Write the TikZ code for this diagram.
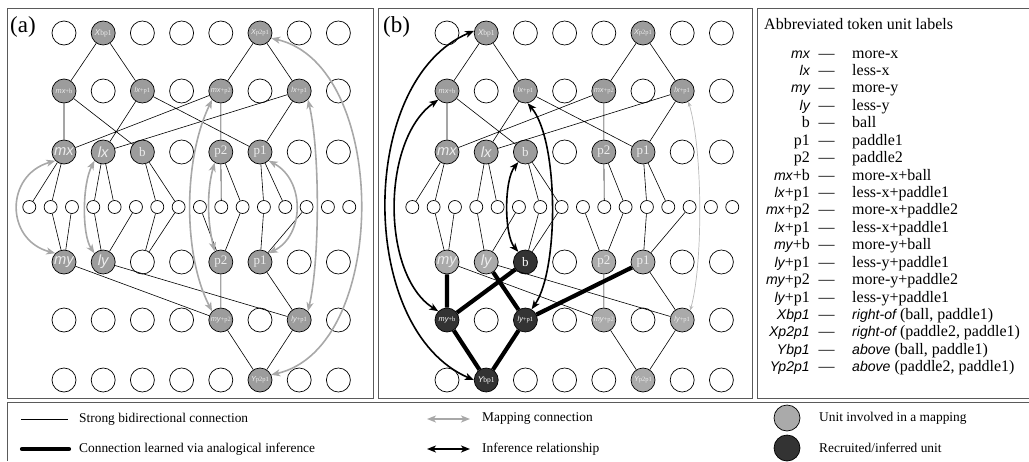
\documentclass[tikz,border=0pt]{standalone}
\usepackage{fontspec}
\setmainfont{Liberation Serif}
\newfontfamily\labsans{Liberation Sans}[Scale=0.88]
\newfontfamily\nodesans{Liberation Sans}[Scale=1.13]
\usetikzlibrary{arrows.meta}

\definecolor{unitgray}{HTML}{9C9C9C}
\definecolor{unitlight}{HTML}{AAAAAA}
\definecolor{unitdark}{HTML}{333333}
\definecolor{mapgray}{HTML}{A8A8A8}
\definecolor{panelgray}{HTML}{5A5A5A}

\newcommand{\sfit}[1]{{\labsans\itshape #1}}
\newcommand{\nit}[1]{{\nodesans\itshape #1}}

\tikzset{
  unit/.style={circle, draw, line width=0.7pt, minimum size=24pt, inner sep=0pt, fill=white},
  feature/.style={circle, draw, line width=0.7pt, minimum size=13pt, inner sep=0pt, fill=white},
  mapped/.style={unit, fill=unitgray, text=white!93!black},
  recruited/.style={unit, fill=unitdark, text=white},
  rowlab/.style={font=\fontsize{13}{13}\selectfont},
  toplab/.style={font=\fontsize{7.5}{7.5}\selectfont},
  midlab/.style={font=\fontsize{6.5}{6.5}\selectfont},
  conn/.style={line width=0.6pt},
  learned/.style={line width=4.2pt},
  mapline/.style={draw=mapgray, line width=1.6pt, {Stealth[length=9pt,width=7pt,inset=2.5pt]}-{Stealth[length=9pt,width=7pt,inset=2.5pt]}},
  mapthin/.style={draw=mapgray!80, line width=0.7pt, {Stealth[length=5pt,width=4pt]}-{Stealth[length=5pt,width=4pt]}},
  infer/.style={line width=1.6pt, {Stealth[length=9pt,width=7pt,inset=2.5pt]}-{Stealth[length=9pt,width=7pt,inset=2.5pt]}},
  panel/.style={draw=panelgray, line width=1pt},
  legtext/.style={font=\fontsize{13.4}{13.4}\selectfont, anchor=west, inner sep=0pt},
  keytext/.style={font=\fontsize{16}{16}\selectfont, inner sep=0pt}
}

\begin{document}
\begin{tikzpicture}[x=1pt, y=-1pt]
\useasboundingbox (0,0) rectangle (1029,461);

% frames
\draw[panel] (7,8) rectangle (373,398);
\draw[panel] (378,8) rectangle (752,398);
\draw[panel] (1029,8) -- (757,8) -- (757,398) -- (1029,398);
\draw[panel] (1029,402) -- (7,402) -- (7,461);
\node[font=\fontsize{23}{23}\selectfont, anchor=west, inner sep=0pt] (alab) at (10,27) {(a)};
\node[font=\fontsize{23}{23}\selectfont, anchor=west, inner sep=0pt] (blab) at (383,27) {(b)};

% units shared by both panels
\foreach \p/\ox/\lo in {a/0/unitgray, b/383/unitlight} {
\begin{scope}[xshift=\ox]
  \foreach \c in {0,2,3,4,6,7}
    \node[unit] (\p-r0c\c) at ({64+39.2*\c},33) {};
  \node[mapped, toplab] (\p-Xb) at (103.2,33) {\nit{X}bp1};
  \node[mapped, midlab] (\p-Xp) at (260,33) {\nit{X}p2p1};
  \foreach \c in {1,3,5,7}
    \node[unit] (\p-r1c\c) at ({64+39.2*\c},91) {};
  \node[mapped, midlab] (\p-mxb) at (64,91) {\nit{mx}+b};
  \node[mapped, midlab] (\p-lxp) at (142.4,91) {\nit{lx}+p1};
  \node[mapped, midlab] (\p-mxq) at (220.8,91) {\nit{mx}+p2};
  \node[mapped, midlab] (\p-lxq) at (299.2,91) {\nit{lx}+p1};
  \foreach \c in {3,6,7}
    \node[unit] (\p-r2c\c) at ({64+39.2*\c},152) {};
  \node[mapped, rowlab] (\p-mx) at (64,152) {\nit{mx}};
  \node[mapped, rowlab] (\p-lx) at (103.2,152) {\nit{lx}};
  \node[mapped, rowlab] (\p-b) at (142.4,152) {b};
  \node[mapped, rowlab] (\p-ptwo) at (220.8,152) {p2};
  \node[mapped, rowlab] (\p-pone) at (260,152) {p1};
  \foreach \j in {0,...,15}
    \node[feature] (\p-s\j) at ({29.3+21.33*\j},207) {};
  \foreach \c in {3,6,7}
    \node[unit] (\p-r3c\c) at ({64+39.2*\c},262) {};
  \node[mapped, fill=\lo, rowlab] (\p-my) at (64,262) {\nit{my}};
  \node[mapped, fill=\lo, rowlab] (\p-ly) at (103.2,262) {\nit{ly}};
  \node[mapped, fill=\lo, rowlab] (\p-qtwo) at (220.8,262) {p2};
  \node[mapped, fill=\lo, rowlab] (\p-qone) at (260,262) {p1};
  \foreach \c in {1,3,5,7}
    \node[unit] (\p-r4c\c) at ({64+39.2*\c},320) {};
  \node[mapped, fill=\lo, midlab] (\p-myq) at (220.8,320) {\nit{my}+p2};
  \node[mapped, fill=\lo, midlab] (\p-lyq) at (299.2,320) {\nit{ly}+p1};
  \foreach \c in {0,2,3,4,6,7}
    \node[unit] (\p-r5c\c) at ({64+39.2*\c},380) {};
  \node[mapped, fill=\lo, midlab] (\p-Yp) at (260,380) {\nit{Y}p2p1};
\end{scope}
}

% panel (a): units left out of the mapping
\node[unit] (a-bb) at (142.4,262) {};
\node[unit] (a-myb) at (64,320) {};
\node[unit] (a-lyp) at (142.4,320) {};
\node[unit] (a-Yb) at (103.2,380) {};

% panel (b): recruited units
\begin{scope}[xshift=383]
\node[recruited, rowlab] (b-bb) at (142.4,262) {b};
\node[recruited, midlab] (b-myb) at (64,320) {\nit{my}+b};
\node[recruited, midlab] (b-lyp) at (142.4,320) {\nit{ly}+p1};
\node[recruited, toplab] (b-Yb) at (103.2,380) {\nit{Y}bp1};
\end{scope}

% strong bidirectional connections
\foreach \p in {a,b} {
  \draw[conn] (\p-Xb) -- (\p-mxb) (\p-Xb) -- (\p-lxp) (\p-Xp) -- (\p-mxq) (\p-Xp) -- (\p-lxq)
    (\p-mxb) -- (\p-mx) (\p-mxb) -- (\p-b) (\p-lxp) -- (\p-lx) (\p-lxp) -- (\p-pone)
    (\p-mxq) -- (\p-mx) (\p-mxq) -- (\p-ptwo) (\p-lxq) -- (\p-lx) (\p-lxq) -- (\p-pone)
    (\p-mx) -- (\p-s0) (\p-mx) -- (\p-s1) (\p-lx) -- (\p-s3) (\p-lx) -- (\p-s4)
    (\p-b) -- (\p-s6) (\p-b) -- (\p-s7) (\p-ptwo) -- (\p-s9) (\p-ptwo) -- (\p-s10)
    (\p-pone) -- (\p-s11) (\p-pone) -- (\p-s12)
    (\p-s1) -- (\p-my) (\p-s2) -- (\p-my) (\p-s3) -- (\p-ly) (\p-s5) -- (\p-ly)
    (\p-s6) -- (\p-bb) (\p-s7) -- (\p-bb) (\p-s8) -- (\p-qtwo) (\p-s10) -- (\p-qtwo)
    (\p-s11) -- (\p-qone) (\p-s13) -- (\p-qone)
    (\p-my) -- (\p-myq) (\p-ly) -- (\p-lyq) (\p-qtwo) -- (\p-myq) (\p-qone) -- (\p-lyq)
    (\p-myq) -- (\p-Yp) (\p-lyq) -- (\p-Yp);
}

% mappings in (a)
\draw[mapline] (a-mx.south west) .. controls (5,175) and (5,240) .. (a-my.north west);
\draw[mapline] (a-lx.south west) .. controls (82,185) and (82,235) .. (a-ly.north west);
\draw[mapline] (a-ptwo.240) .. controls (207,190) and (207,220) .. (a-qtwo.120);
\draw[mapline] (a-pone.south east) .. controls (305,180) and (305,235) .. (a-qone.north east);
\draw[mapline] (a-mxq.south west) .. controls (183,160) and (183,255) .. (a-myq.north west);
\draw[mapline] (a-lxq.south east) .. controls (320,150) and (320,260) .. (a-lyq.north east);
\draw[mapline] (a-Xp.-25) .. controls (390,65) and (390,348) .. (a-Yp.25);

% learned connections and inferences in (b)
\draw[learned] (b-my) -- (b-myb) (b-bb) -- (b-myb) (b-ly) -- (b-lyp) (b-qone) -- (b-lyp)
  (b-myb) -- (b-Yb) (b-lyp) -- (b-Yb);
\begin{scope}[xshift=383]
\draw[infer] (b-Xb.170) .. controls (-26,80) and (-26,330) .. (b-Yb.west);
\draw[infer] (b-mxb.south west) .. controls (-2,140) and (-2,275) .. (b-myb.north west);
\draw[infer] (b-b.235) .. controls (121,180) and (121,235) .. (b-bb.125);
\draw[infer] (b-lxp.280) .. controls (176,140) and (176,270) .. (b-lyp.60);
\draw[mapthin] (b-lxq.-60) .. controls (320,150) and (320,265) .. (b-lyq.50);
\end{scope}

% key to the labels
\node[keytext, anchor=base west] (keytitle) at (764,29.5) {Abbreviated token unit labels};
\foreach \k/\lab/\txt in {0/\sfit{mx}/more-x, 1/\sfit{lx}/less-x, 2/\sfit{my}/more-y,
    3/\sfit{ly}/less-y, 4/b/ball, 5/p1/paddle1, 6/p2/paddle2,
    7/{\sfit{mx}+b}/more-x+ball, 8/{\sfit{lx}+p1}/less-x+paddle1,
    9/{\sfit{mx}+p2}/more-x+paddle2, 10/{\sfit{lx}+p1}/less-x+paddle1,
    11/{\sfit{my}+b}/more-y+ball, 12/{\sfit{ly}+p1}/less-y+paddle1,
    13/{\sfit{my}+p2}/more-y+paddle2, 14/{\sfit{ly}+p1}/less-y+paddle1,
    15/\sfit{Xbp1}/{\sfit{right-of} (ball, paddle1)},
    16/\sfit{Xp2p1}/{\sfit{right-of} (paddle2, paddle1)},
    17/\sfit{Ybp1}/{\sfit{above} (ball, paddle1)},
    18/\sfit{Yp2p1}/{\sfit{above} (paddle2, paddle1)}} {
  \node[keytext, anchor=base east] (key\k) at (810,{58+17.43*\k}) {\lab};
  \node[keytext, anchor=base] (dash\k) at (826.5,{58+17.43*\k}) {\textemdash};
  \node[keytext, anchor=base west] (desc\k) at (852,{58+17.43*\k}) {\txt};
}

% legend strip
\coordinate (thinA) at (21,419);
\coordinate (thinB) at (68,419);
\coordinate (thickA) at (22,449);
\coordinate (thickB) at (69,449);
\coordinate (mapA) at (427,419);
\coordinate (mapB) at (470,419);
\coordinate (infA) at (427,449);
\coordinate (infB) at (470,449);
\draw[conn] (thinA) -- (thinB);
\draw[learned, line cap=round] (thickA) -- (thickB);
\draw[mapline] (mapA) -- (mapB);
\draw[infer] (infA) -- (infB);
\node[legtext] (thintext) at (79,419) {Strong bidirectional connection};
\node[legtext] (thicktext) at (79,449) {Connection learned via analogical inference};
\node[legtext] (maptext) at (482,419) {Mapping connection};
\node[legtext] (inftext) at (482,449) {Inference relationship};
\node[unit, fill=unitlight, minimum size=26pt] (keymapped) at (787,418) {};
\node[unit, fill=unitdark, minimum size=26pt] (keyrecruited) at (787,448) {};
\node[legtext] (mappedtext) at (819,418) {Unit involved in a mapping};
\node[legtext] (recruitedtext) at (819,448) {Recruited/inferred unit};
\end{tikzpicture}
\end{document}
